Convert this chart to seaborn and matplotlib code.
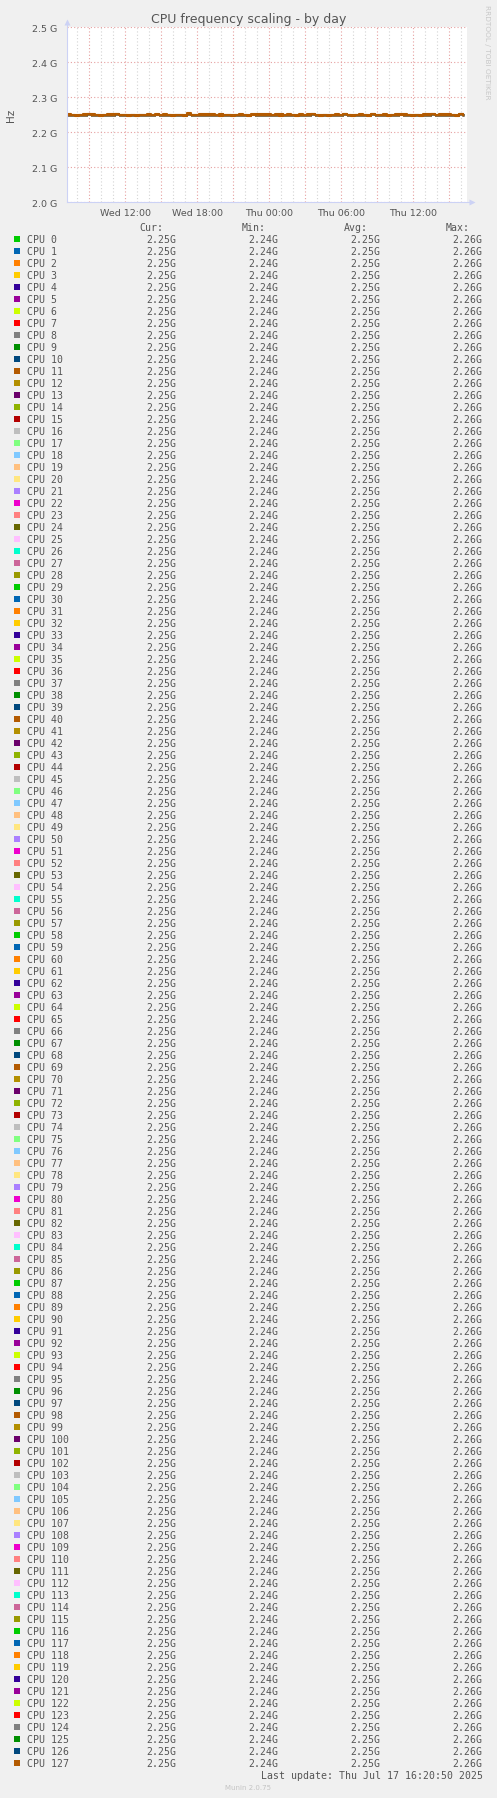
import numpy as np
import pandas as pd
import matplotlib
matplotlib.use("Agg")
import matplotlib.pyplot as plt
import seaborn as sns
from matplotlib.patches import Rectangle
from matplotlib.lines import Line2D
from matplotlib.ticker import FixedLocator, FuncFormatter

# --- data ---
# munin default colour cycle (29 colours, repeated over the 128 cpus)
munin_colours = [
    "#00CC00", "#0066B3", "#FF8000", "#FFCC00", "#330099", "#990099", "#CCFF00",
    "#FF0000", "#808080", "#008F00", "#00487D", "#B35A00", "#B38F00", "#6B006B",
    "#8FB300", "#B30000", "#BEBEBE", "#80FF80", "#80C9FF", "#FFC080", "#FFE680",
    "#AA80FF", "#EE00CC", "#FF8080", "#666600", "#FFBFFF", "#00FFCC", "#CC6699",
    "#999900",
]
n_cpus = 128
cpu_names = [f"CPU {i}" for i in range(n_cpus)]

# hours relative to Thu 00:00, graph window is 400 px = 33.3 h
window_start_h = -16.867
window_end_h = 16.467
sample_step_h = 1 / 3  # 20 min samples

# GHz, the visible (top) trace with its little bumps
trace_top = [
    2.253, 2.250, 2.248, 2.250, 2.253, 2.253, 2.253, 2.250, 2.248, 2.250,
    2.253, 2.253, 2.253, 2.250, 2.250, 2.248, 2.250, 2.248, 2.250, 2.250,
    2.253, 2.250, 2.250, 2.250, 2.253, 2.250, 2.248, 2.250, 2.250, 2.248,
    2.255, 2.250, 2.250, 2.253, 2.253, 2.253, 2.253, 2.250, 2.248, 2.250,
    2.250, 2.248, 2.250, 2.253, 2.250, 2.248, 2.250, 2.253, 2.253, 2.253,
    2.253, 2.250, 2.253, 2.248, 2.250, 2.253, 2.250, 2.248, 2.253, 2.250,
    2.253, 2.253, 2.250, 2.248, 2.250, 2.248, 2.250, 2.253, 2.250, 2.253,
    2.250, 2.248, 2.250, 2.253, 2.250, 2.248, 2.253, 2.250, 2.250, 2.253,
    2.248, 2.250, 2.253, 2.250, 2.253, 2.250, 2.248, 2.250, 2.248, 2.253,
    2.253, 2.253, 2.250, 2.253, 2.253, 2.253, 2.250, 2.248, 2.253, 2.253,
]
# GHz, the smoother traces underneath
trace_under = [
    2.250, 2.250, 2.249, 2.250, 2.250, 2.251, 2.250, 2.250, 2.249, 2.250,
    2.250, 2.250, 2.251, 2.250, 2.249, 2.250, 2.250, 2.250, 2.250, 2.249,
    2.250, 2.250, 2.251, 2.250, 2.250, 2.250, 2.249, 2.250, 2.250, 2.250,
    2.251, 2.250, 2.250, 2.250, 2.249, 2.250, 2.250, 2.250, 2.251, 2.250,
    2.250, 2.249, 2.250, 2.250, 2.250, 2.250, 2.251, 2.250, 2.250, 2.249,
    2.250, 2.250, 2.250, 2.251, 2.250, 2.250, 2.249, 2.250, 2.250, 2.250,
    2.250, 2.251, 2.250, 2.250, 2.249, 2.250, 2.250, 2.250, 2.250, 2.251,
    2.250, 2.249, 2.250, 2.250, 2.250, 2.250, 2.251, 2.250, 2.250, 2.249,
    2.250, 2.250, 2.250, 2.251, 2.250, 2.250, 2.249, 2.250, 2.250, 2.250,
    2.250, 2.251, 2.250, 2.250, 2.249, 2.250, 2.250, 2.250, 2.251, 2.250,
]
# cpus whose (brown) lines end up painted over the rest
top_cpus = ["CPU 98", "CPU 127"]

# legend table values (same for every cpu)
cur_vals = ["2.25G"] * n_cpus
min_vals = ["2.24G"] * n_cpus
avg_vals = ["2.25G"] * n_cpus
max_vals = ["2.26G"] * n_cpus

y_ticks = [2.0, 2.1, 2.2, 2.3, 2.4, 2.5]
x_label_hours = [-12, -6, 0, 6, 12]
x_label_text = ["Wed 12:00", "Wed 18:00", "Thu 00:00", "Thu 06:00", "Thu 12:00"]

# --- build long table for seaborn ---
times = window_start_h + sample_step_h * np.arange(len(trace_top))
rows = []
for i in range(n_cpus):
    vals = trace_top if i == n_cpus - 1 else trace_under
    for t, v in zip(times, vals):
        rows.append((t, v, cpu_names[i]))
df = pd.DataFrame(rows, columns=["hours", "ghz", "cpu"])
palette = {cpu_names[i]: munin_colours[i % len(munin_colours)] for i in range(n_cpus)}

# --- figure ---
W, H = 497, 1799
TXT = "#555555"
plt.rcParams["font.family"] = ["DejaVu Sans"]

def fx(px):
    return px / W

def fy(py):
    return 1 - py / H

fig = plt.figure(figsize=(W / 100, H / 100), dpi=100, facecolor="#F0F0F0")
ax = fig.add_axes([fx(66.7), fy(203.3), 400 / W, 175 / H])
ax.set_facecolor("white")

# the bulk of the cpus, then the brown ones painted on top a bit heavier
rest = [c for c in cpu_names if c not in top_cpus]
sns.lineplot(data=df[df.cpu.isin(rest)], x="hours", y="ghz", hue="cpu",
             hue_order=rest, palette=palette, legend=False,
             estimator=None, sort=False, drawstyle="steps-post",
             linewidth=0.8, ax=ax)
sns.lineplot(data=df[df.cpu.isin(top_cpus)], x="hours", y="ghz", hue="cpu",
             hue_order=top_cpus, palette=palette, legend=False, estimator=None,
             sort=False, drawstyle="steps-post", linewidth=1.5, ax=ax)

ax.set_xlim(window_start_h, window_end_h)
ax.set_ylim(2.0, 2.5)

# grid: red dotted every 3 h / 0.1 G, grey dotted every hour
major_x = [h for h in range(-15, 17, 3)]
ax.xaxis.set_major_locator(FixedLocator(major_x))
ax.xaxis.set_minor_locator(FixedLocator([h for h in range(-16, 17) if h % 3]))
ax.xaxis.set_major_formatter(FuncFormatter(
    lambda v, p: x_label_text[x_label_hours.index(int(round(v)))] if int(round(v)) in x_label_hours else ""))
ax.yaxis.set_major_locator(FixedLocator(y_ticks))
ax.yaxis.set_major_formatter(FuncFormatter(lambda v, p: f"{v:.1f} G"))
ax.grid(which="major", color="#E6A0A0", linestyle=(0, (1, 2)), linewidth=0.8)
ax.grid(which="minor", axis="x", color="#D4D4D4", linestyle=(0, (1, 2)), linewidth=0.8)
ax.set_axisbelow(True)
ax.tick_params(which="both", length=0, colors=TXT, labelsize=6.8)
ax.tick_params(axis="x", pad=4)
ax.tick_params(axis="y", pad=7)
ax.set_xlabel("")
ax.set_ylabel("")
for s in ["top", "right", "left", "bottom"]:
    ax.spines[s].set_visible(False)

# rrdtool style axes with arrows
axis_col = "#CCD2F5"
fig.add_artist(Line2D([fx(66.7), fx(66.7)], [fy(203.3), fy(22)], color=axis_col, lw=0.8))
fig.add_artist(Line2D([fx(66.7), fx(472)], [fy(203.3), fy(203.3)], color=axis_col, lw=0.8))
fig.add_artist(Line2D([fx(66.7)], [fy(23)], marker="^", markersize=4, color=axis_col, mec="none"))
fig.add_artist(Line2D([fx(472)], [fy(203.3)], marker=">", markersize=4, color=axis_col, mec="none"))

fig.text(fx(248.5), fy(19), "CPU frequency scaling - by day", ha="center", va="center",
         fontsize=9, color=TXT)
fig.text(fx(10.7), fy(115), "Hz", ha="center", va="center", rotation=90,
         fontsize=7.5, color=TXT)
fig.text(fx(487), fy(5), "RRDTOOL / TOBI OETIKER", ha="center", va="top", rotation=270,
         fontsize=5.3, color="#C8C8C8")

# --- legend table ---
mono = "DejaVu Sans Mono"
fs = 7.15
col_right = [176, 278.3, 380.3, 482.7]
head_right = [163.3, 265.7, 367.7, 470]
for x, lab in zip(head_right, ["Cur:", "Min:", "Avg:", "Max:"]):
    fig.text(fx(x), fy(228.3), lab, ha="right", va="center", family=mono, fontsize=fs, color=TXT)

for i in range(n_cpus):
    yc = 239.7 + 12 * i
    fig.add_artist(Rectangle((fx(14), fy(yc + 3)), 6 / W, 6 / H,
                             transform=fig.transFigure,
                             color=munin_colours[i % len(munin_colours)], lw=0))
    fig.text(fx(26.7), fy(yc), cpu_names[i], ha="left", va="center", family=mono,
             fontsize=fs, color=TXT)
    for x, vals in zip(col_right, [cur_vals, min_vals, avg_vals, max_vals]):
        fig.text(fx(x), fy(yc), vals[i], ha="right", va="center", family=mono,
                 fontsize=fs, color=TXT)

fig.text(fx(482.7), fy(1776), "Last update: Thu Jul 17 16:20:50 2025", ha="right",
         va="center", family=mono, fontsize=fs, color=TXT)
fig.text(fx(248), fy(1788), "Munin 2.0.75", ha="center", va="center", fontsize=5,
         color="#C4C4C4")

fig.savefig("out.png", dpi=100, facecolor=fig.get_facecolor())
